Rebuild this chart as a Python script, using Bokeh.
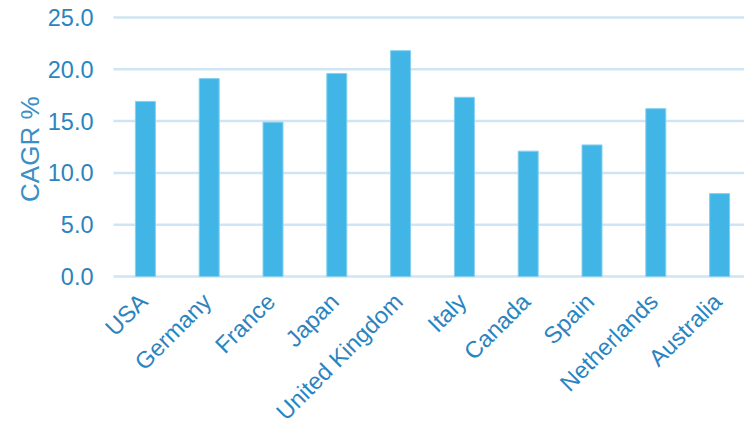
import math
from bokeh.plotting import figure
from bokeh.models import Range1d, FixedTicker, ColumnDataSource, Title
from bokeh.core.properties import value
from bokeh.embed import file_html
from bokeh.resources import INLINE

countries = ["USA", "Germany", "France", "Japan", "United Kingdom",
             "Italy", "Canada", "Spain", "Netherlands", "Australia"]
cagr = [16.9, 19.1, 14.9, 19.6, 21.8, 17.3, 12.1, 12.7, 16.2, 8.0]
y_ticks = [0, 5, 10, 15, 20, 25]
y_title = "CAGR %"

# ---- layout constants (pixels) ----
W, H = 744, 425
FRAME_LEFT = 100        # frame starts a bit left of the gridlines so labels are not clipped
GRID_LEFT = 113         # where gridlines / first category band start
TICK_LABEL_RIGHT = 93   # right edge of the y tick labels
Y_TOP_PX = 17           # canvas y of the 25 gridline
Y_ZERO_PX = 276         # canvas y of the 0 gridline
CAT_PX = 63.8           # width of one category band
LABEL_GAP_PX = 21       # distance of label anchor below the zero line
TITLE_END_PX = 96       # canvas y where the vertical axis title ends (top)

ppy = (Y_ZERO_PX - Y_TOP_PX) / (y_ticks[-1] - y_ticks[0])
y_top = y_ticks[-1] + Y_TOP_PX / ppy
y_bot = y_ticks[0] - (H - Y_ZERO_PX) / ppy
x0 = -0.5 - (GRID_LEFT - FRAME_LEFT) / CAT_PX
x1 = x0 + (W - FRAME_LEFT) / CAT_PX

xs = list(range(len(countries)))
src = ColumnDataSource(dict(x=xs, top=cagr, name=countries))
grid_src = ColumnDataSource(dict(y=y_ticks))

p = figure(width=W, height=H, output_backend="svg", toolbar_location=None,
           x_range=Range1d(x0, x1), y_range=Range1d(y_bot, y_top),
           x_axis_location=None,
           min_border_left=FRAME_LEFT, min_border_right=0, min_border_top=0,
           min_border_bottom=0)
p.outline_line_color = None
p.background_fill_color = "white"
p.border_fill_color = "white"
p.xgrid.grid_line_color = None
p.ygrid.grid_line_color = None

# horizontal gridlines, starting at the first category band
p.segment(x0=-0.5, x1=x1, y0="y", y1="y", source=grid_src,
          line_color="#cfe5f3", line_width=2.5)

p.vbar(x="x", top="top", width=20 / CAT_PX, bottom=0, source=src,
       fill_color="#41b6e6", line_color="#86d0ef", line_width=1)

label_color = "#2b84bf"

# category labels, rotated 45 degrees, ending under each bar
p.text(x="x", y=-LABEL_GAP_PX / ppy, text="name", source=src,
       x_offset=-2, angle=45, angle_units="deg",
       text_align="right", text_baseline="middle",
       text_font=value("Liberation Sans"), text_font_size="23.5px",
       text_color=label_color)

ax = p.yaxis[0]
ax.ticker = FixedTicker(ticks=y_ticks)
ax.major_label_overrides = {t: f"{t:.1f}" for t in y_ticks}
ax.major_label_text_font = "Liberation Sans"
ax.major_label_text_font_size = "23.5px"
ax.major_label_text_color = label_color
ax.major_label_standoff = FRAME_LEFT - TICK_LABEL_RIGHT
ax.major_tick_out = 0
ax.major_tick_in = 0
ax.axis_line_color = None
ax.major_tick_line_color = None
ax.minor_tick_line_color = None

# vertical axis title, placed on the left side, centred on the 0-25 part
t = Title(text=y_title, align="right", offset=TITLE_END_PX, standoff=0,
          text_font="Liberation Sans", text_font_size="26px",
          text_font_style="normal", text_color="#3a8fc7")
p.add_layout(t, "left")

open("out.html", "w").write(file_html(p, INLINE))
